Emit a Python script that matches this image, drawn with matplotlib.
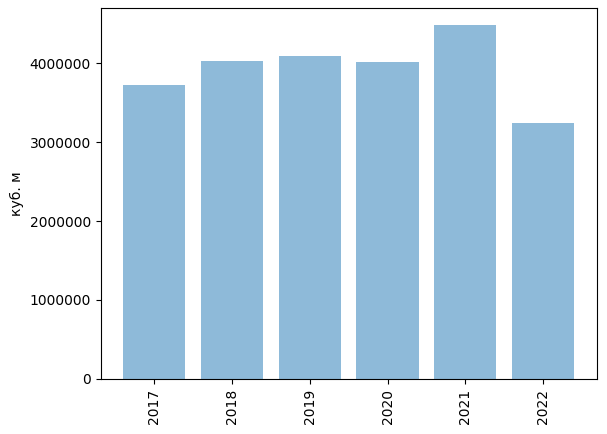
import matplotlib
matplotlib.use("Agg")
import matplotlib.pyplot as plt

years = ["2017", "2018", "2019", "2020", "2021", "2022"]
volumes = [3730000, 4025000, 4090000, 4020000, 4480000, 3250000]

fig = plt.figure(figsize=(6.07, 4.34), dpi=100)
ax = fig.add_subplot(111)
fig.subplots_adjust(left=0.166, right=0.983, top=0.982, bottom=0.127)

ax.bar(years, volumes, color="tab:blue", alpha=0.5)
ax.set_ylabel("куб. м")
ax.ticklabel_format(axis="y", style="plain")
plt.xticks(rotation=90)

fig.savefig("out.png")
